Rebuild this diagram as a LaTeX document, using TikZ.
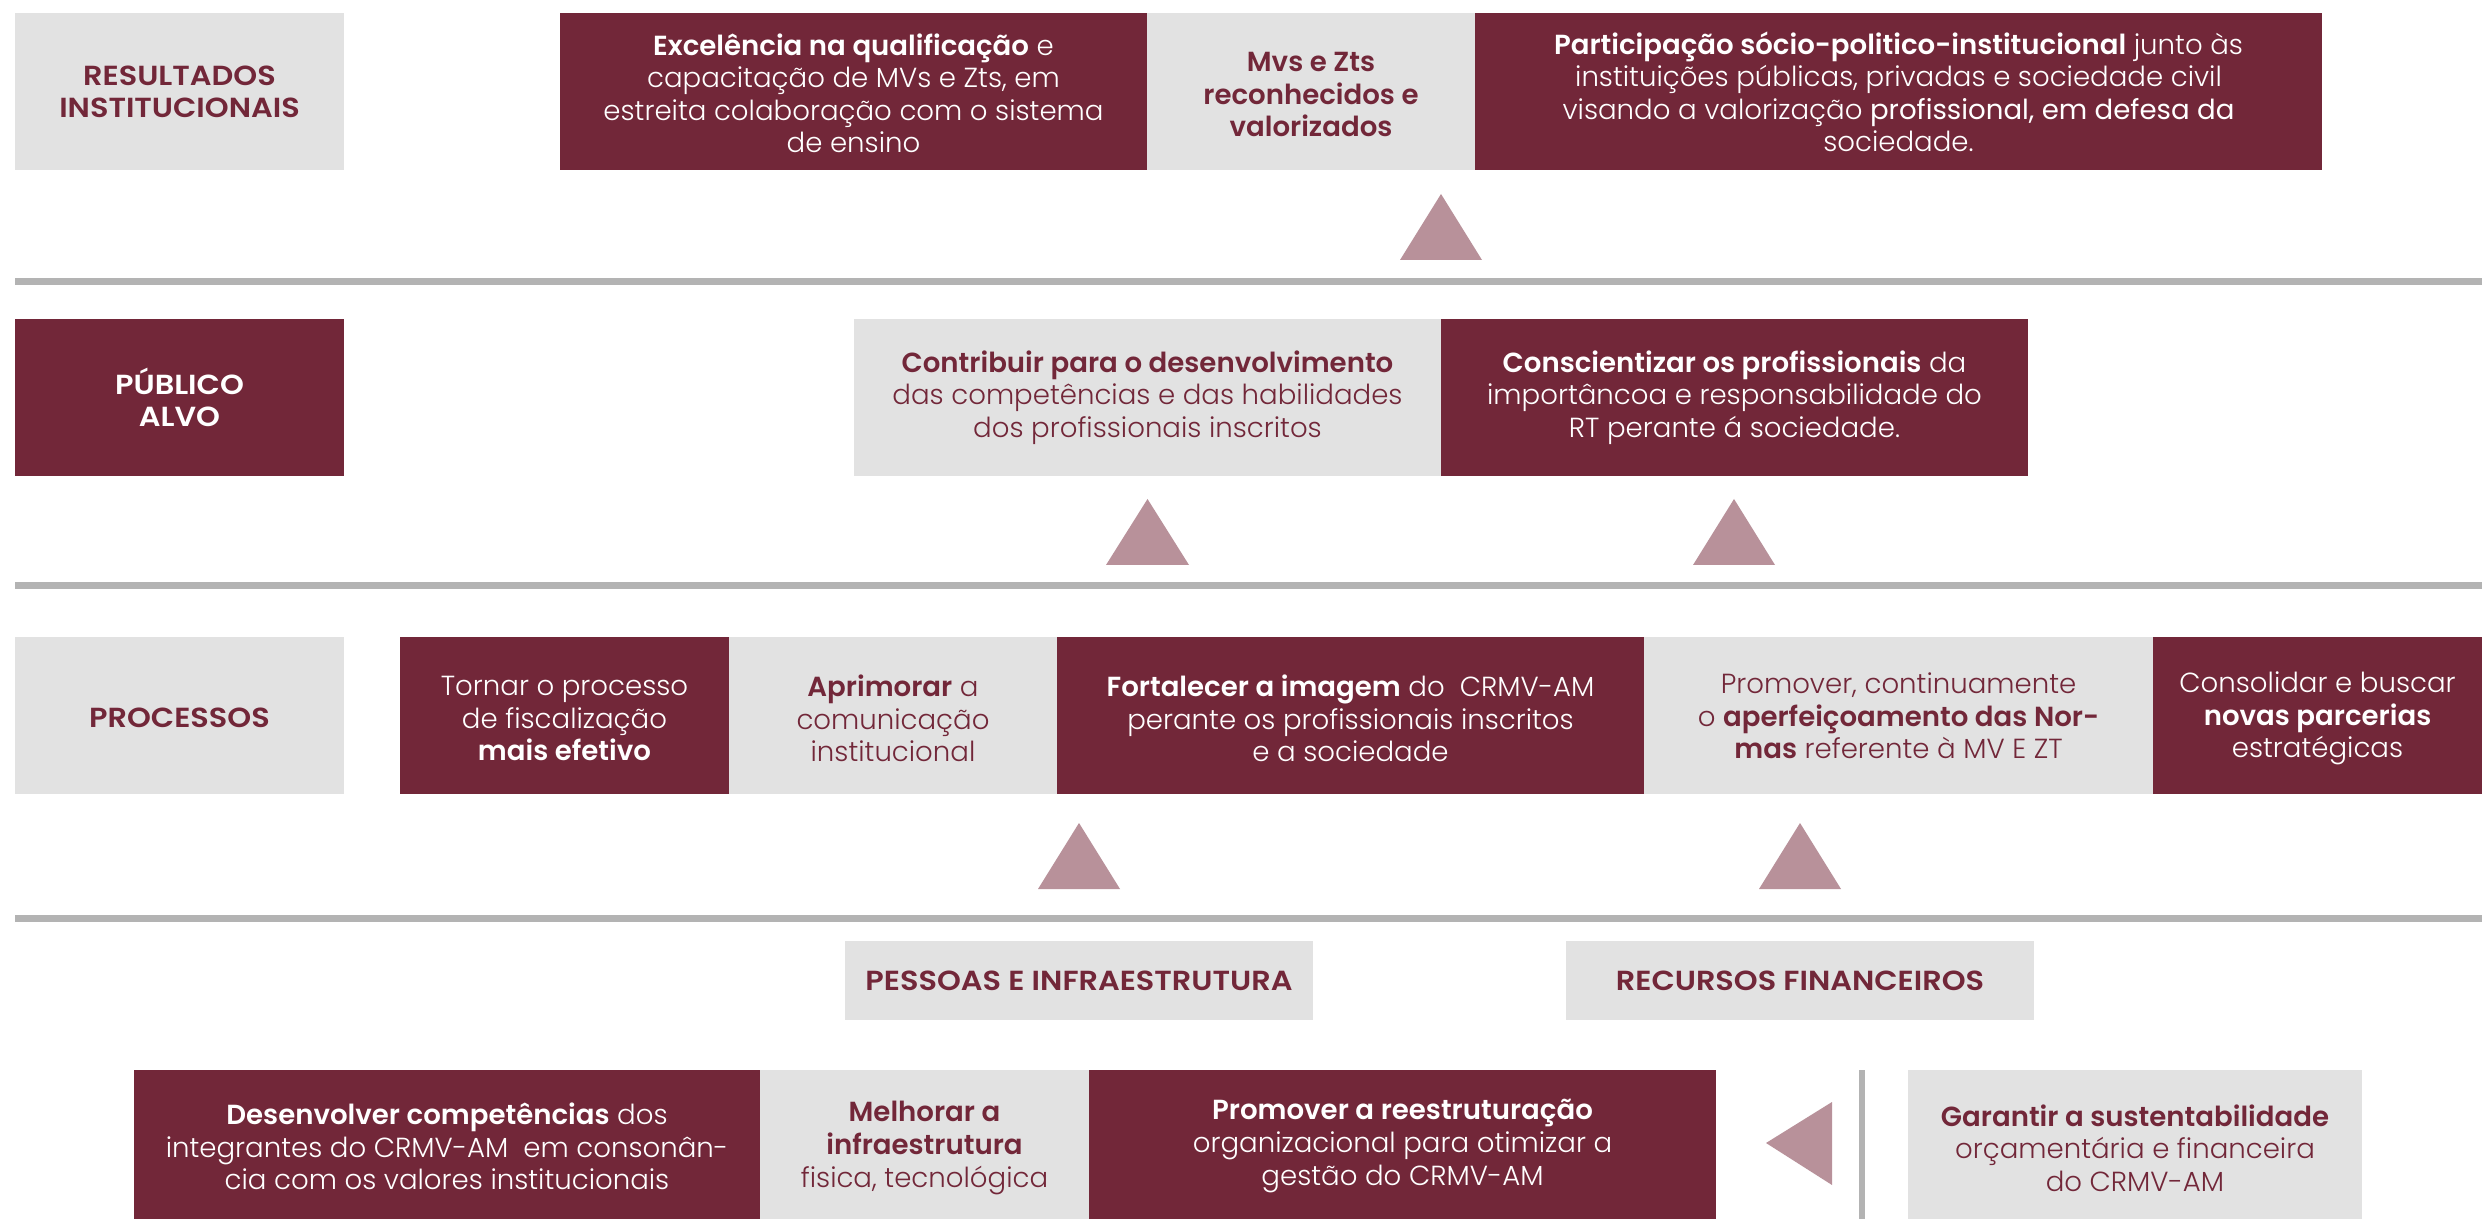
\documentclass[tikz,border=0pt]{standalone}
\usepackage{fontspec}
\setmainfont{Poppins}[UprightFont=* Light, BoldFont=* SemiBold]
\newfontfamily\rgfont{Poppins}
\newfontfamily\lblfont{Poppins SemiBold}[FakeStretch=1.1]
\definecolor{maroon}{HTML}{722739}
\definecolor{boxgray}{HTML}{E2E2E2}
\definecolor{trigray}{HTML}{B8919A}
\definecolor{linegray}{HTML}{B3B3B3}
\begin{document}
\begin{tikzpicture}[x=0.01cm,y=-0.01cm,
  base/.style={inner sep=0pt, align=center, font=\fontsize{7.85}{9.25}\selectfont, anchor=center},
  mbox/.style={inner sep=0pt, fill=maroon},
  gbox/.style={inner sep=0pt, fill=boxgray},
  wtext/.style={base, text=white},
  mtext/.style={base, text=maroon},
  lbl/.style={font=\fontsize{7.85}{9.25}\selectfont\lblfont},
  sz/.style n args={2}{minimum width=#1, minimum height=#2},
  tri/.style={fill=trigray},
  bar/.style={fill=linegray}]
\useasboundingbox[fill=white] (0,0) rectangle (2491,1219);

% Row 1
\node[gbox, sz={3.29cm}{1.57cm}] (res) at (179.5,91.5) {};
\node[mtext, lbl, yshift=-0.005cm] (resT) at (res) {RESULTADOS\\INSTITUCIONAIS};
\node[mbox, sz={5.87cm}{1.57cm}] (exc) at (853.5,91.5) {};
\node[wtext, yshift=-0.02cm] (excT) at (exc) {\textbf{Excelência na qualificação} e\\capacitação de MVs e Zts, em\\estreita colaboração com o sistema\\de ensino};
\node[gbox, sz={3.28cm}{1.57cm}] (mvs) at (1311,91.5) {};
\node[mtext, yshift=-0.03cm] (mvsT) at (mvs) {\textbf{Mvs e Zts}\\\textbf{reconhecidos e}\\\textbf{valorizados}};
\node[mbox, sz={8.47cm}{1.57cm}] (par) at (1898.5,91.5) {};
\node[wtext, yshift=-0.005cm] (parT) at (par) {\textbf{Participação sócio-politico-institucional} junto às\\instituições públicas, privadas e sociedade civil\\visando a valorização {\rgfont profissional, em defesa da}\\sociedade.};
\fill[tri] (1400,260) -- (1441,194) -- (1482,260) -- cycle;
\fill[bar] (15,278.5) rectangle (2482,285.5);

% Row 2
\node[mbox, sz={3.29cm}{1.57cm}] (pub) at (179.5,397.5) {};
\node[wtext, lbl] (pubT) at (pub) {PÚBLICO\\ALVO};
\node[gbox, sz={5.87cm}{1.57cm}] (con) at (1147.5,397.5) {};
\node[mtext] (conT) at (con) {\textbf{Contribuir para o desenvolvimento}\\das competências e das habilidades\\dos profissionais inscritos};
\node[mbox, sz={5.87cm}{1.57cm}] (csc) at (1734.5,397.5) {};
\node[wtext] (cscT) at (csc) {\textbf{Conscientizar os profissionais} da\\importâncoa e responsabilidade do\\RT perante á sociedade.};
\fill[tri] (1106,565) -- (1147.5,499) -- (1189,565) -- cycle;
\fill[tri] (1693,565) -- (1734,499) -- (1775,565) -- cycle;
\fill[bar] (15,582.5) rectangle (2482,589.5);

% Row 3
\node[gbox, sz={3.29cm}{1.57cm}] (pro) at (179.5,715.5) {};
\node[mtext, lbl, yshift=-0.025cm] (proT) at (pro) {PROCESSOS};
\node[mbox, sz={3.29cm}{1.57cm}] (tor) at (564.5,715.5) {};
\node[wtext, yshift=-0.03cm] (torT) at (tor) {Tornar o processo\\de fiscalização\\\textbf{mais efetivo}};
\node[gbox, sz={3.28cm}{1.57cm}] (apr) at (893,715.5) {};
\node[mtext, yshift=-0.03cm] (aprT) at (apr) {\textbf{Aprimorar} a\\comunicação\\institucional};
\node[mbox, sz={5.87cm}{1.57cm}] (for) at (1350.5,715.5) {};
\node[wtext, yshift=-0.03cm] (forT) at (for) {\textbf{Fortalecer a imagem} do\ \ CRMV-AM\\perante os profissionais inscritos\\e a sociedade};
\node[gbox, sz={5.09cm}{1.57cm}] (prm) at (1898.5,715.5) {};
\node[mtext, yshift=-0.005cm] (prmT) at (prm) {Promover, continuamente\\o \textbf{aperfeiçoamento das Nor-}\\\textbf{mas} referente à MV E ZT};
\node[mbox, sz={3.29cm}{1.57cm}] (cns) at (2317.5,715.5) {};
\node[wtext, yshift=-0.03cm] (cnsT) at (cns) {Consolidar e buscar\\\textbf{novas parcerias}\\estratégicas};
\fill[tri] (1038,889) -- (1079,823) -- (1120,889) -- cycle;
\fill[tri] (1759,889) -- (1800,823) -- (1841,889) -- cycle;
\fill[bar] (15,915) rectangle (2482,922);

% Row 4
\node[gbox, sz={4.68cm}{0.79cm}] (pes) at (1079,980.5) {};
\node[mtext, lbl] (pesT) at (pes) {PESSOAS E INFRAESTRUTURA};
\node[gbox, sz={4.68cm}{0.79cm}] (rec) at (1800,980.5) {};
\node[mtext, lbl] (recT) at (rec) {RECURSOS FINANCEIROS};
\node[mbox, sz={6.26cm}{1.49cm}] (des) at (447,1144.5) {};
\node[wtext, yshift=-0.02cm] (desT) at (des) {\textbf{Desenvolver competências} dos\\integrantes do CRMV-AM\ \ em consonân-\\cia com os valores institucionais};
\node[gbox, sz={3.29cm}{1.49cm}] (mel) at (924.5,1144.5) {};
\node[mtext, yshift=-0.035cm] (melT) at (mel) {\textbf{Melhorar a}\\\textbf{infraestrutura}\\fisica, tecnológica};
\node[mbox, sz={6.27cm}{1.49cm}] (reo) at (1402.5,1144.5) {};
\node[wtext, yshift=-0.015cm] (reoT) at (reo) {\textbf{Promover a reestruturação}\\organizacional para otimizar a\\gestão do CRMV-AM};
\fill[tri] (1766,1143) -- (1832,1102) -- (1832,1185) -- cycle;
\fill[bar] (1859,1070) rectangle (1865,1219);
\node[gbox, sz={4.54cm}{1.49cm}] (gar) at (2135,1144.5) {};
\node[mtext, yshift=-0.035cm] (garT) at (gar) {\textbf{Garantir a sustentabilidade}\\orçamentária e financeira\\do CRMV-AM};
\end{tikzpicture}
\end{document}
